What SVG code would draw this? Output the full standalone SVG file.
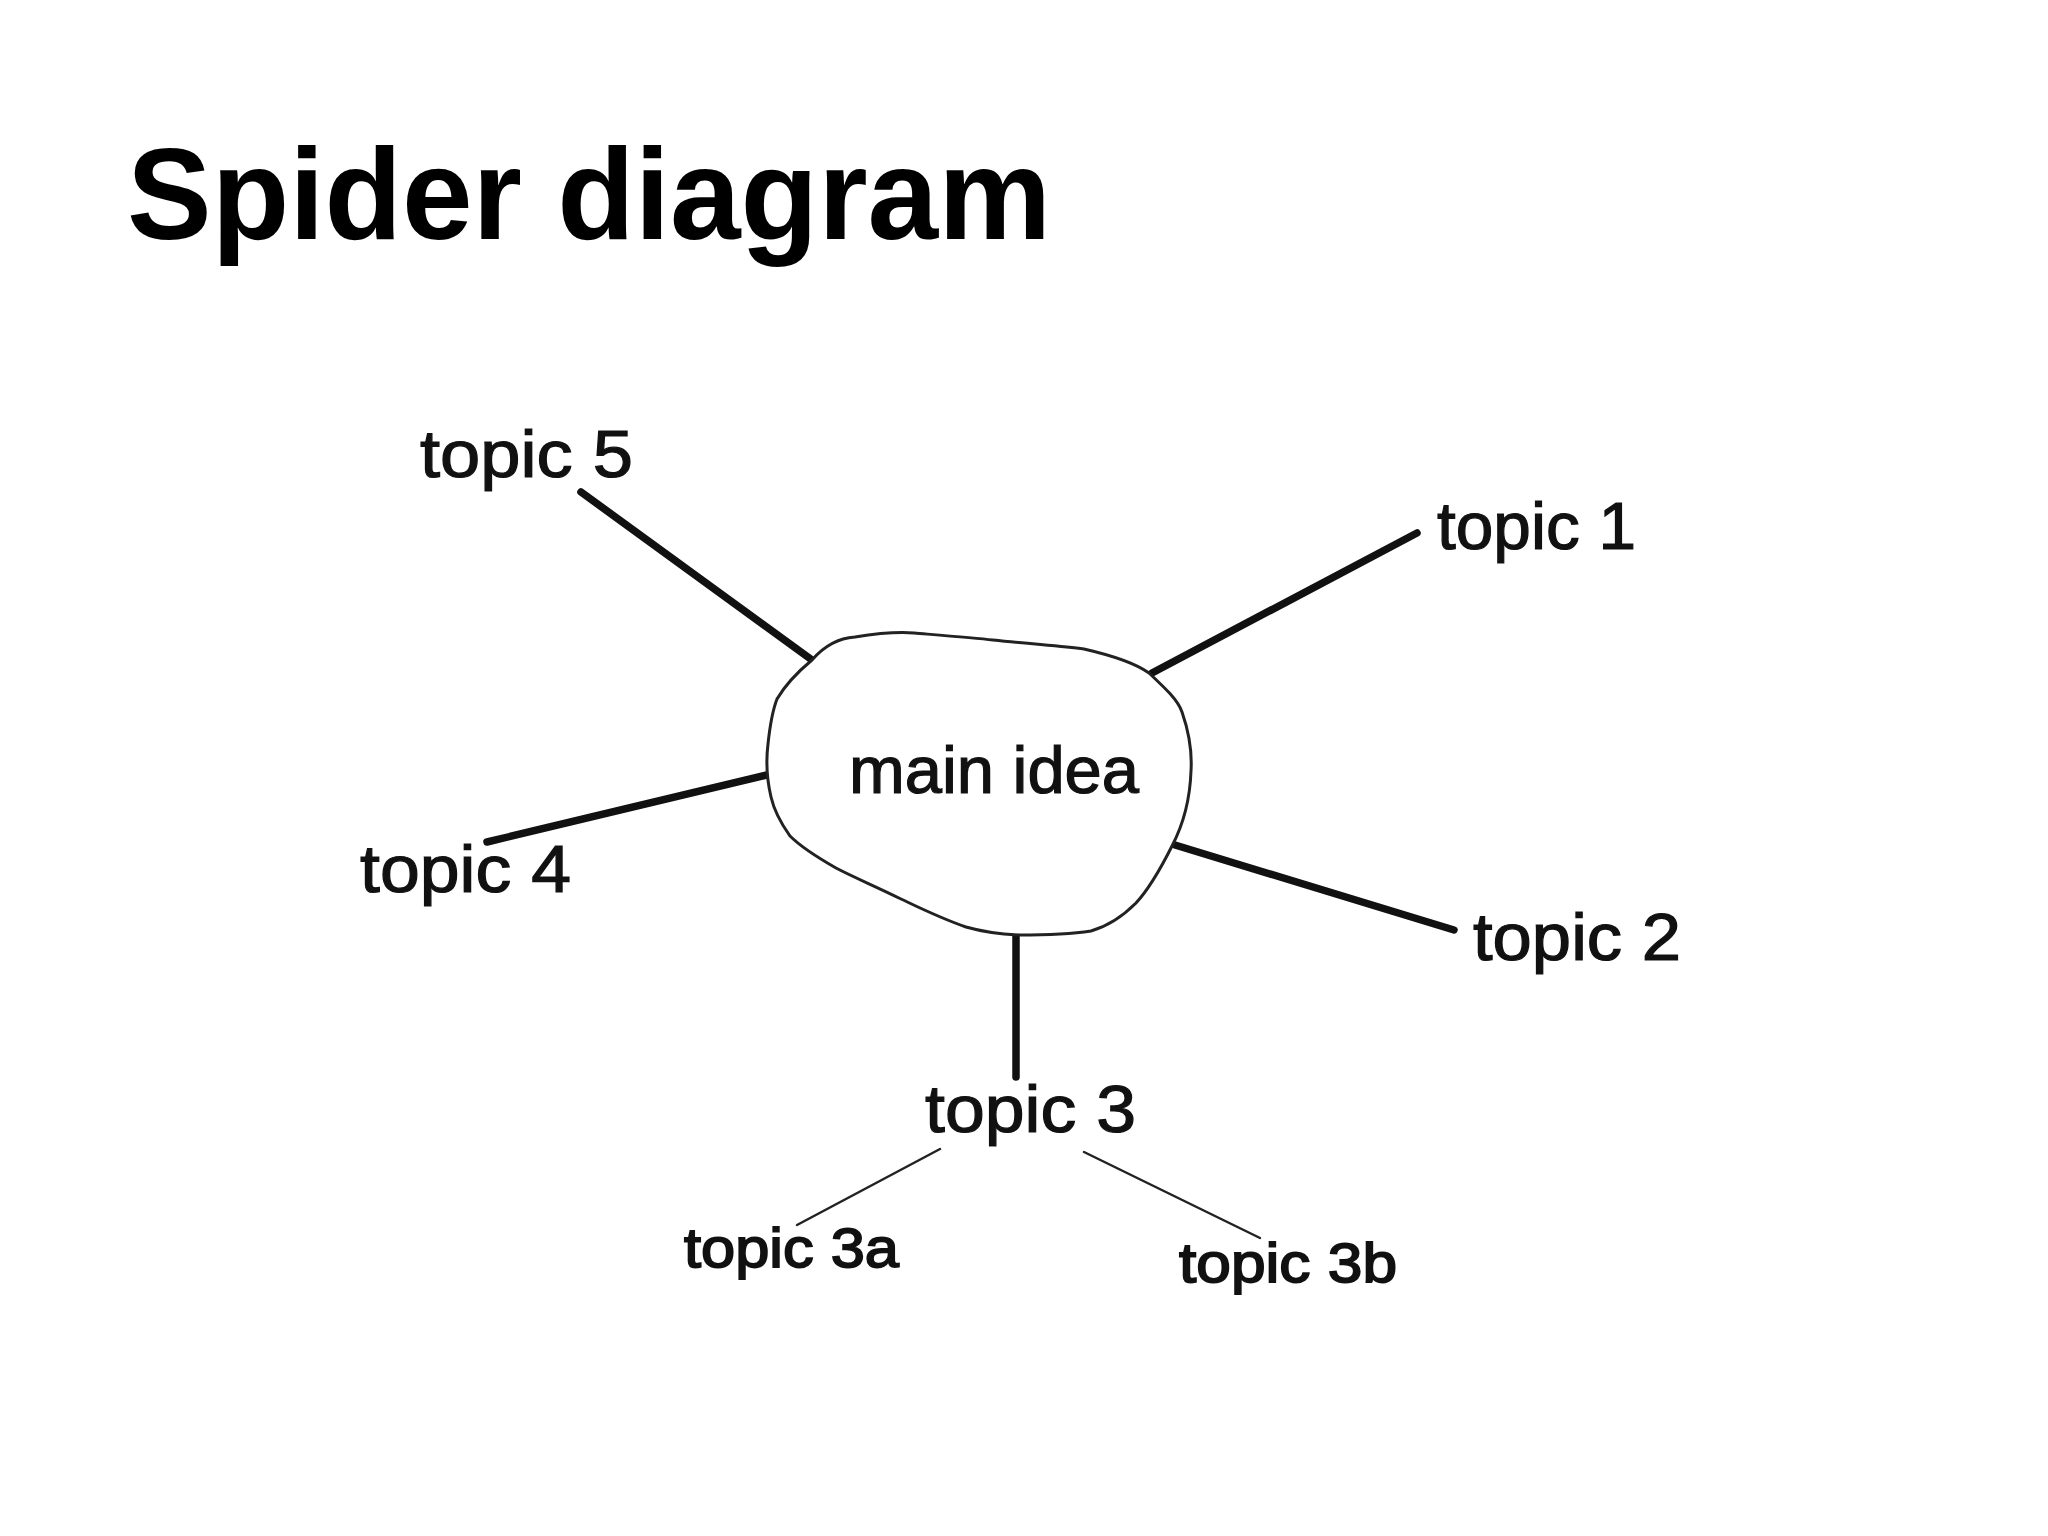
<svg xmlns="http://www.w3.org/2000/svg" width="2048" height="1536" viewBox="0 0 2048 1536">
<style>
.title{font-family:"Liberation Sans",Arial,sans-serif;font-weight:bold;font-size:130px;fill:#000}
.lbl{font-family:"Liberation Sans",Arial,sans-serif;font-size:66px;fill:#111;stroke:#111;stroke-width:1.2}
.sub{font-family:"Liberation Sans",Arial,sans-serif;font-size:56px;fill:#111;stroke:#111;stroke-width:1.8}
.main{stroke:#111;stroke-width:7.5;stroke-linecap:round;fill:none}
.thin{stroke:#222;stroke-width:2.5;stroke-linecap:round;fill:none}
.blob{stroke:#222;stroke-width:3;fill:#fff}
</style>
<rect width="2048" height="1536" fill="#fff"/>
<text class="title" x="127" y="239" textLength="924" lengthAdjust="spacingAndGlyphs">Spider diagram</text>
<g id="connectors">
<line class="main" x1="581" y1="492" x2="812" y2="660"/>
<line class="main" x1="1417" y1="533" x2="1152" y2="673"/>
<line class="main" x1="487" y1="842" x2="771" y2="774"/>
<line class="main" x1="1175" y1="845" x2="1454" y2="930"/>
<line class="main" x1="1016" y1="935" x2="1016" y2="1077"/>
<line class="thin" x1="940" y1="1149" x2="797" y2="1225"/>
<line class="thin" x1="1084" y1="1152" x2="1260" y2="1238"/>
</g>
<g id="main-idea">
<path class="blob" d="M812,660 C825,645 840,638 855,637 C880,633 900,632 914,633 C950,636 975,638 993,640 C1030,644 1060,646 1084,649 C1110,655 1135,663 1149,673 C1165,688 1178,700 1182,712 C1190,735 1192,755 1191,771 C1190,800 1183,825 1172,846 C1160,870 1148,890 1136,903 C1120,919 1105,927 1091,931 C1065,935 1040,935 1019,935 C995,934 980,931 966,927 C940,918 920,908 901,899 C875,886 855,878 836,868 C815,856 800,846 790,836 C780,822 774,810 771,797 C767,780 766,760 768,744 C770,725 772,712 777,699 C787,682 800,670 812,660 Z"/>
<text class="lbl" x="849" y="793" textLength="290" lengthAdjust="spacingAndGlyphs">main idea</text>
</g>
<g id="topic-5"><text class="lbl" x="420" y="477" textLength="213" lengthAdjust="spacingAndGlyphs">topic 5</text></g>
<g id="topic-1"><text class="lbl" x="1437" y="549" textLength="199" lengthAdjust="spacingAndGlyphs">topic 1</text></g>
<g id="topic-4"><text class="lbl" x="360" y="892" textLength="211" lengthAdjust="spacingAndGlyphs">topic 4</text></g>
<g id="topic-2"><text class="lbl" x="1473" y="960" textLength="208" lengthAdjust="spacingAndGlyphs">topic 2</text></g>
<g id="topic-3"><text class="lbl" x="925" y="1132" textLength="211" lengthAdjust="spacingAndGlyphs">topic 3</text></g>
<g id="topic-3a"><text class="sub" x="684" y="1267" textLength="215" lengthAdjust="spacingAndGlyphs">topic 3a</text></g>
<g id="topic-3b"><text class="sub" x="1179" y="1282" textLength="218" lengthAdjust="spacingAndGlyphs">topic 3b</text></g>
</svg>
